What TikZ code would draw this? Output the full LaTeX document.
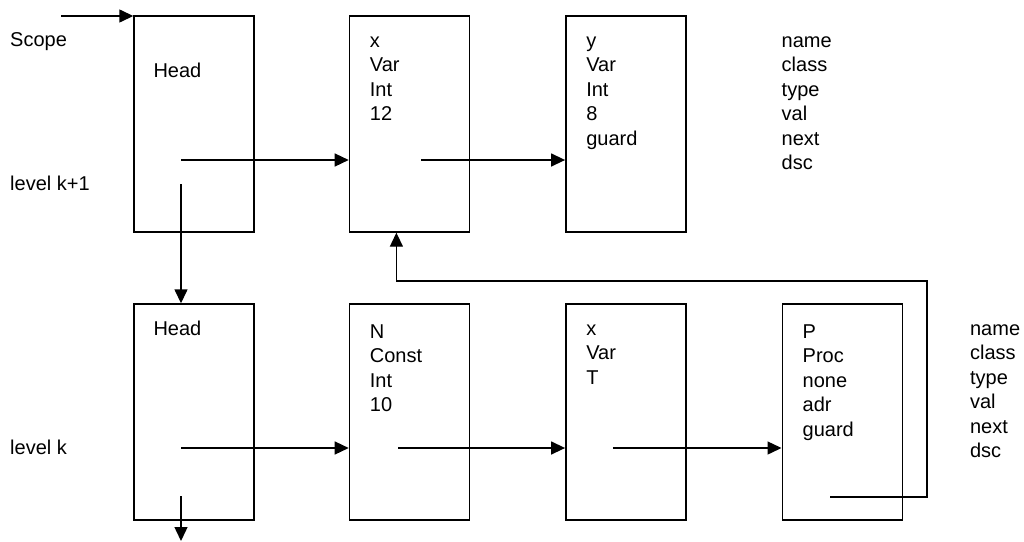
\documentclass[tikz,border=0pt]{standalone}
\usepackage{fontspec}
\setmainfont{Liberation Sans}
\usepackage{tikz}
\usetikzlibrary{arrows.meta,positioning}
\tikzstyle{registro} = [draw, line width=1.4pt, rectangle, minimum width=120pt, minimum height=216pt, inner sep=0pt]
\tikzstyle{campos} = [anchor=north west, align=left, inner sep=0pt, font=\fontsize{20}{24.5}\selectfont, execute at begin node=\strut]
\tikzstyle{rotulo} = [anchor=base west, inner sep=0pt, font=\fontsize{20}{24.5}\selectfont]
\tikzstyle{enlace} = [line width=1.4pt, -{Triangle[length=14pt,width=13pt]}]

\begin{document}
\begin{tikzpicture}[x=1pt,y=-1pt]
\useasboundingbox (0,0) rectangle (1024,541);
% nivel k+1
\node[registro] (cab1) at (194,124) {};
\node[registro, right=94pt of cab1] (var1) {};
\node[registro, right=95pt of var1] (var2) {};
% nivel k
\node[registro, below=70.6pt of cab1] (cab0) {};
\node[registro, right=94pt of cab0] (cons0) {};
\node[registro, right=95pt of cons0] (var0) {};
\node[registro, right=95pt of var0] (proc0) {};
% textos
\node[rotulo] (scope) at (10,46) {Scope};
\node[rotulo] (lvl1) at (10,190) {level k+1};
\node[rotulo] (lvl0) at (10,454) {level k};
\node[campos] (tcab1) at ([shift={(20,45)}]cab1.north west) {Head};
\node[campos] (tvar1) at ([shift={(21,21)}]var1.north west) {x\\Var\\Int\\12};
\node[campos] (tvar2) at ([shift={(21,21)}]var2.north west) {y\\Var\\Int\\8\\guard};
\node[campos] (nom1) at ([shift={(95,21)}]var2.north east) {name\\class\\type\\val\\next\\dsc};
\node[campos] (tcab0) at ([shift={(20,15)}]cab0.north west) {Head};
\node[campos] (tcons0) at ([shift={(21,21)}]cons0.north west) {N\\Const\\Int\\10};
\node[campos] (tvar0) at ([shift={(21,21)}]var0.north west) {x\\Var\\T};
\node[campos] (tproc0) at ([shift={(21,21)}]proc0.north west) {P\\Proc\\none\\adr\\guard};
\node[campos] (nom0) at ([shift={(67,21)}]proc0.north east) {name\\class\\type\\val\\next\\dsc};
% punteros
\coordinate (entrada) at (61,16);
\coordinate (c1sig) at ([shift={(-13,36)}]cab1.center);
\coordinate (c1dsc) at ([shift={(-13,60)}]cab1.center);
\coordinate (v1sig) at ([shift={(12,36)}]var1.center);
\coordinate (c0sig) at ([shift={(-13,36)}]cab0.center);
\coordinate (c0dsc) at ([shift={(-13,84)}]cab0.center);
\coordinate (fondo) at (181,541);
\coordinate (k0sig) at ([shift={(-11,36)}]cons0.center);
\coordinate (v0sig) at ([shift={(-13,36)}]var0.center);
\coordinate (p0sig) at ([shift={(-12,85)}]proc0.center);
\coordinate (retorno) at (927,281);
\draw[enlace] (entrada) -- (entrada -| cab1.west);
\draw[enlace] (c1sig) -- (c1sig -| var1.west);
\draw[enlace] (c1dsc) -- (c1dsc |- cab0.north);
\draw[enlace] (v1sig) -- (v1sig -| var2.west);
\draw[enlace] (c0sig) -- (c0sig -| cons0.west);
\draw[enlace] (c0dsc) -- (fondo);
\draw[enlace] (k0sig) -- (k0sig -| var0.west);
\draw[enlace] (v0sig) -- (v0sig -| proc0.west);
\draw[enlace] (p0sig) -| (retorno) -| ([xshift=-13pt]var1.south);
\end{tikzpicture}
\end{document}
